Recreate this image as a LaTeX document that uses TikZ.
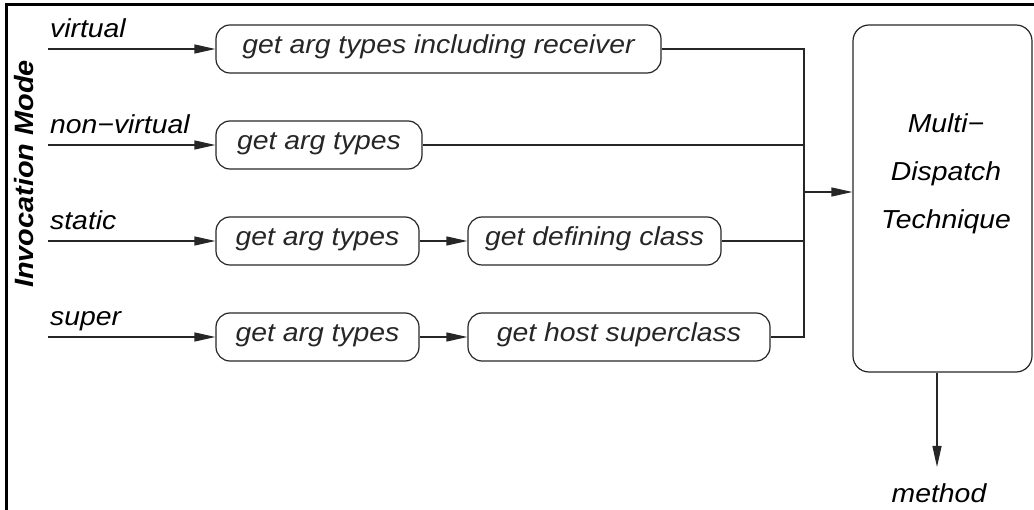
\documentclass[tikz,border=0pt]{standalone}
\usepackage{fontspec}
\setmainfont[FakeStretch=1.09]{Liberation Sans}
\usetikzlibrary{arrows.meta}
\begin{document}
\begin{tikzpicture}[x=1pt,y=-1pt,
  every node/.style={font=\fontsize{26}{31}\selectfont\itshape, inner sep=0pt},
  line/.style={line width=1.2pt, black!85},
  arr/.style={line, -{Triangle[length=21pt,width=9pt]}},
  procbox/.style={draw, line width=1.2pt, black!85, rounded corners=14pt, minimum height=48pt, text height=16pt, text depth=6pt},
  bigbox/.style={draw, line width=1.2pt, black!85, rounded corners=16pt},
  lbl/.style={anchor=base west}]
\useasboundingbox (0,0) rectangle (1034,510);
% frame
\draw[line width=2.6pt] (6.5,512) -- (6.5,4.5) -- (1036,4.5);

% side title
\node[rotate=90, font=\fontsize{26.5}{31}\selectfont\bfseries\itshape] (title) at (24,174) {Invocation Mode};

% input labels
\node[lbl] (l1) at (50,38) {virtual};
\node[lbl] (l2) at (50,134) {non−virtual};
\node[lbl] (l3) at (50,230) {static};
\node[lbl] (l4) at (50,326) {super};

% input start points
\coordinate (in1) at (48,49);
\coordinate (in2) at (48,145);
\coordinate (in3) at (48,241);
\coordinate (in4) at (48,337);

% boxes
\node[procbox, minimum width=445pt] (b1) at (438.5,49) {get arg types including receiver};
\node[procbox, minimum width=206pt] (b2) at (319,145) {get arg types};
\node[procbox, minimum width=203pt] (b3) at (317.5,241) {get arg types};
\node[procbox, minimum width=203pt] (b4) at (317.5,337) {get arg types};
\node[procbox, minimum width=253pt] (d3) at (594.5,241) {get defining class};
\node[procbox, minimum width=302pt] (d4) at (619,337) {get host superclass};

% multi-dispatch box
\node[bigbox, minimum width=179pt, minimum height=347pt] (mdt) at (942.5,198.5) {};
\node[anchor=base] (t1) at (946,133) {Multi−};
\node[anchor=base] (t2) at (946,181) {Dispatch};
\node[anchor=base] (t3) at (946,229) {Technique};

% output
\coordinate (out) at (937,467);
\node[anchor=base] (method) at (939,503) {method};

% bus
\coordinate (bustop) at (804,49);
\coordinate (busbot) at (804,337);
\coordinate (bus) at (804,192);

% connectors
\draw[arr] (in1) -- (b1.west);
\draw[arr] (in2) -- (b2.west);
\draw[arr] (in3) -- (b3.west);
\draw[arr] (in4) -- (b4.west);
\draw[arr] (b3.east) -- (d3.west);
\draw[arr] (b4.east) -- (d4.west);
\draw[line] (b1.east) -- (bustop) -- (busbot) -- (d4.east);
\draw[line] (b2.east) -- (b2.east -| bustop);
\draw[line] (d3.east) -- (d3.east -| bustop);
\draw[arr] (bus) -- (bus -| mdt.west);
\draw[arr] (out |- mdt.south) -- (out);
\end{tikzpicture}
\end{document}
